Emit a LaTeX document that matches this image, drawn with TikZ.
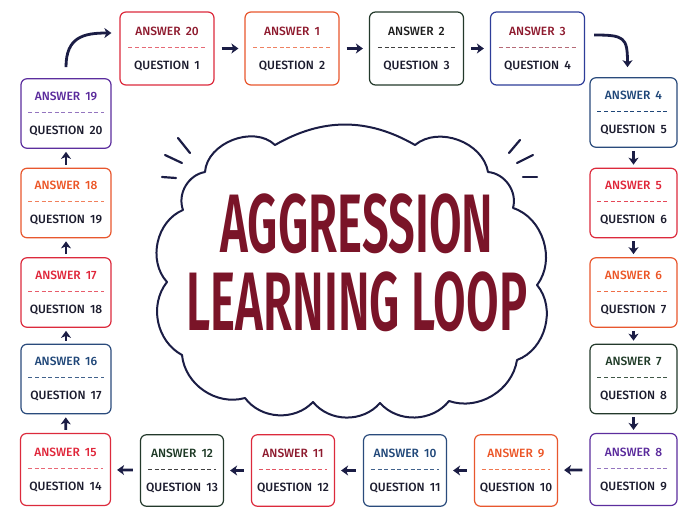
\documentclass[tikz,border=0pt]{standalone}
\usepackage{fontspec}
\setmainfont{Fira Sans}
\newfontfamily\titlefont[FakeStretch=0.57]{Fira Sans SemiBold}
\newfontfamily\cardfont[WordSpace=1.7]{Fira Sans Medium}
\usetikzlibrary{arrows.meta}

\definecolor{ink}{HTML}{1B1D45}
\definecolor{qink}{HTML}{1C1C2E}
\definecolor{titlered}{HTML}{7A1428}
\definecolor{cRed}{HTML}{DC2A3C}
\definecolor{cOrange}{HTML}{E8572E}
\definecolor{cGreen}{HTML}{23392B}
\definecolor{cNavy}{HTML}{2A4B7C}
\definecolor{cIndigo}{HTML}{2E3D99}
\definecolor{cPurple}{HTML}{5C2E9E}
\definecolor{tWine}{HTML}{8E1A2E}
\definecolor{tRed}{HTML}{E0263A}
\definecolor{tOrange}{HTML}{EC5526}
\definecolor{tGreen}{HTML}{1E3A26}
\definecolor{tDark}{HTML}{1E1E1E}
\definecolor{tNavy}{HTML}{1F4678}
\definecolor{tPurple}{HTML}{5A2A9C}

\begin{document}
\begin{tikzpicture}
        [x=1pt, y=-1pt, every node/.style={inner sep=0},
         card/.style={draw=#1, line width=1.2pt, rounded corners=6pt, fill=white},
         toprow/.style={minimum width=94pt, minimum height=73pt},
         rightcol/.style={minimum width=87pt, minimum height=69.5pt},
         leftcol/.style={minimum width=90pt, minimum height=69.5pt},
         botrow/.style={minimum width=83pt, minimum height=71.5pt},
         ans/.style={text=#1, font=\cardfont\fontsize{12}{14}\selectfont, text height=8.3pt, text depth=0pt, yshift=17.5pt},
         qst/.style={text=qink, font=\cardfont\fontsize{12}{14}\selectfont, text height=8.3pt, text depth=0pt, yshift=-16.5pt},
         dashline/.style={draw=#1, line width=1pt, dash pattern=on 4pt off 2.6pt},
         hflow/.style={draw=ink, line width=2.8pt, -{Stealth[length=7pt,width=10pt,inset=2pt]}, shorten <=7pt, shorten >=6pt},
         vflow/.style={draw=ink, line width=2.8pt, -{Stealth[length=7pt,width=10pt,inset=2pt]}, shorten <=3pt, shorten >=3pt},
         bendflow/.style={draw=ink, line width=2.8pt, -{Stealth[length=7pt,width=10pt,inset=2pt]}},
         cloudline/.style={draw=ink, line width=2pt, fill=white, line join=round},
         spark/.style={draw=ink, line width=2.2pt, line cap=round}]

        \fill[white] (0,0) rectangle (700,525);
        \useasboundingbox (0,0) rectangle (700,525);

        % cloud and title
        \draw[cloudline] (183,210) to[bend left=50] (205,172) to[bend left=65] (275,145)
          to[bend left=30] (415,145) to[bend left=60] (488,172) to[bend left=50] (513,208)
          to[bend left=55] (537,285) to[bend left=55] (517,360) to[bend left=50] (449,401)
          to[bend left=50] (380,403) to[bend left=50] (313,402) to[bend left=50] (245,398)
          to[bend left=50] (182,355) to[bend left=50] (167,282) to[bend left=55] (183,210) -- cycle;

        \draw[spark] (178,138) -- (190,153);
        \draw[spark] (165,155) -- (182,163);
        \draw[spark] (162,177) -- (176,178);
        \draw[spark] (520,140) -- (509,153);
        \draw[spark] (533,155) -- (517,163);
        \draw[spark] (537,177) -- (523,177);

        \node[anchor=base, text=titlered, font=\titlefont\fontsize{83}{83}\selectfont] (t1) at (357,252) {AGGRESSION};
        \node[anchor=base, text=titlered, font=\titlefont\fontsize{83}{83}\selectfont] (t2) at (357,330) {LEARNING LOOP};

        % top row
        \node[card=cRed, toprow, label={[ans=tWine]center:ANSWER 20}, label={[qst]center:QUESTION 1}] (a20) at (167,48.5) {};
        \node[card=cOrange, toprow, label={[ans=tWine]center:ANSWER 1}, label={[qst]center:QUESTION 2}] (a1) at (292,48.5) {};
        \node[card=cGreen, toprow, label={[ans=tDark]center:ANSWER 2}, label={[qst]center:QUESTION 3}] (a2) at (416.5,48.5) {};
        \node[card=cIndigo, toprow, label={[ans=tWine]center:ANSWER 3}, label={[qst]center:QUESTION 4}] (a3) at (537.5,48.5) {};

        % right column
        \node[card=cNavy, rightcol, label={[ans=tNavy]center:ANSWER 4}, label={[qst]center:QUESTION 5}] (a4) at (633.5,112.5) {};
        \node[card=cRed, rightcol, label={[ans=tRed]center:ANSWER 5}, label={[qst]center:QUESTION 6}] (a5) at (633.5,203) {};
        \node[card=cOrange, rightcol, label={[ans=tOrange]center:ANSWER 6}, label={[qst]center:QUESTION 7}] (a6) at (633.5,292.5) {};
        \node[card=cGreen, rightcol, label={[ans=tGreen]center:ANSWER 7}, label={[qst]center:QUESTION 8}] (a7) at (633.5,379) {};
        \node[card=cPurple, rightcol, minimum height=72pt, label={[ans=tPurple]center:ANSWER 8}, label={[qst]center:QUESTION 9}] (a8) at (633.5,469.5) {};

        % bottom row
        \node[card=cOrange, botrow, label={[ans=tOrange]center:ANSWER 9}, label={[qst]center:QUESTION 10}] (a9) at (516,470.5) {};
        \node[card=cNavy, botrow, label={[ans=tNavy]center:ANSWER 10}, label={[qst]center:QUESTION 11}] (a10) at (405,470.5) {};
        \node[card=cRed, botrow, label={[ans=tWine]center:ANSWER 11}, label={[qst]center:QUESTION 12}] (a11) at (293,470.5) {};
        \node[card=cGreen, botrow, label={[ans=tGreen]center:ANSWER 12}, label={[qst]center:QUESTION 13}] (a12) at (182,470.5) {};

        % left column
        \node[card=cRed, leftcol, minimum height=72pt, label={[ans=tRed]center:ANSWER 15}, label={[qst]center:QUESTION 14}] (a15) at (65.5,469.5) {};
        \node[card=cNavy, leftcol, label={[ans=tNavy]center:ANSWER 16}, label={[qst]center:QUESTION 17}] (a16) at (66,379) {};
        \node[card=cRed, leftcol, label={[ans=tRed]center:ANSWER 17}, label={[qst]center:QUESTION 18}] (a17) at (66,292.5) {};
        \node[card=cOrange, leftcol, label={[ans=tOrange]center:ANSWER 18}, label={[qst]center:QUESTION 19}] (a18) at (66,203) {};
        \node[card=cPurple, leftcol, label={[ans=tPurple]center:ANSWER 19}, label={[qst]center:QUESTION 20}] (a19) at (66,113.5) {};

        % dashed rules
        \draw[dashline=cRed!70] ([xshift=9pt,yshift=1.5pt]a20.west) -- ([xshift=-9pt,yshift=1.5pt]a20.east);
        \draw[dashline=cOrange!75] ([xshift=9pt,yshift=1.5pt]a1.west) -- ([xshift=-9pt,yshift=1.5pt]a1.east);
        \draw[dashline=tDark!85] ([xshift=9pt,yshift=1.5pt]a2.west) -- ([xshift=-9pt,yshift=1.5pt]a2.east);
        \draw[dashline=tWine!65] ([xshift=9pt,yshift=1.5pt]a3.west) -- ([xshift=-9pt,yshift=1.5pt]a3.east);
        \draw[dashline=tNavy] ([xshift=8pt,yshift=1.5pt]a4.west) -- ([xshift=-8pt,yshift=1.5pt]a4.east);
        \draw[dashline=tRed!85] ([xshift=8pt,yshift=1.5pt]a5.west) -- ([xshift=-8pt,yshift=1.5pt]a5.east);
        \draw[dashline=tOrange!85] ([xshift=8pt,yshift=1.5pt]a6.west) -- ([xshift=-8pt,yshift=1.5pt]a6.east);
        \draw[dashline=tGreen!85] ([xshift=8pt,yshift=1.5pt]a7.west) -- ([xshift=-8pt,yshift=1.5pt]a7.east);
        \draw[dashline=tPurple!65] ([xshift=8pt,yshift=1.5pt]a8.west) -- ([xshift=-8pt,yshift=1.5pt]a8.east);
        \draw[dashline=tOrange!80] ([xshift=8pt,yshift=1.5pt]a9.west) -- ([xshift=-8pt,yshift=1.5pt]a9.east);
        \draw[dashline=tNavy!85] ([xshift=8pt,yshift=1.5pt]a10.west) -- ([xshift=-8pt,yshift=1.5pt]a10.east);
        \draw[dashline=cRed!80] ([xshift=8pt,yshift=1.5pt]a11.west) -- ([xshift=-8pt,yshift=1.5pt]a11.east);
        \draw[dashline=tDark!85] ([xshift=8pt,yshift=1.5pt]a12.west) -- ([xshift=-8pt,yshift=1.5pt]a12.east);
        \draw[dashline=tRed!70] ([xshift=8pt,yshift=1.5pt]a15.west) -- ([xshift=-8pt,yshift=1.5pt]a15.east);
        \draw[dashline=tNavy!85] ([xshift=8pt,yshift=1.5pt]a16.west) -- ([xshift=-8pt,yshift=1.5pt]a16.east);
        \draw[dashline=tRed!75] ([xshift=8pt,yshift=1.5pt]a17.west) -- ([xshift=-8pt,yshift=1.5pt]a17.east);
        \draw[dashline=tOrange!75] ([xshift=8pt,yshift=1.5pt]a18.west) -- ([xshift=-8pt,yshift=1.5pt]a18.east);
        \draw[dashline=tPurple!65] ([xshift=8pt,yshift=1.5pt]a19.west) -- ([xshift=-8pt,yshift=1.5pt]a19.east);

        % the loop
        \draw[hflow] (a20) -- (a1);
        \draw[hflow] (a1) -- (a2);
        \draw[hflow] (a2) -- (a3);
        \draw[bendflow] ([xshift=9pt,yshift=13.5pt]a3.east) .. controls +(30,0) and +(0,-30) .. ([xshift=-6pt,yshift=10pt]a4.north);
        \draw[vflow] (a4) -- (a5);
        \draw[vflow] (a5) -- (a6);
        \draw[vflow] (a6) -- (a7);
        \draw[vflow] (a7) -- (a8);
        \draw[hflow] (a8) -- (a9);
        \draw[hflow] (a9) -- (a10);
        \draw[hflow] (a10) -- (a11);
        \draw[hflow] (a11) -- (a12);
        \draw[hflow] (a12) -- (a15);
        \draw[vflow] (a15) -- (a16);
        \draw[vflow] (a16) -- (a17);
        \draw[vflow] (a17) -- (a18);
        \draw[vflow] (a18) -- (a19);
        \draw[bendflow] ([yshift=11pt]a19.north) .. controls +(0,-30) and +(-28,0) .. ([xshift=-8pt,yshift=15.5pt]a20.west);

      \end{tikzpicture}
\end{document}
